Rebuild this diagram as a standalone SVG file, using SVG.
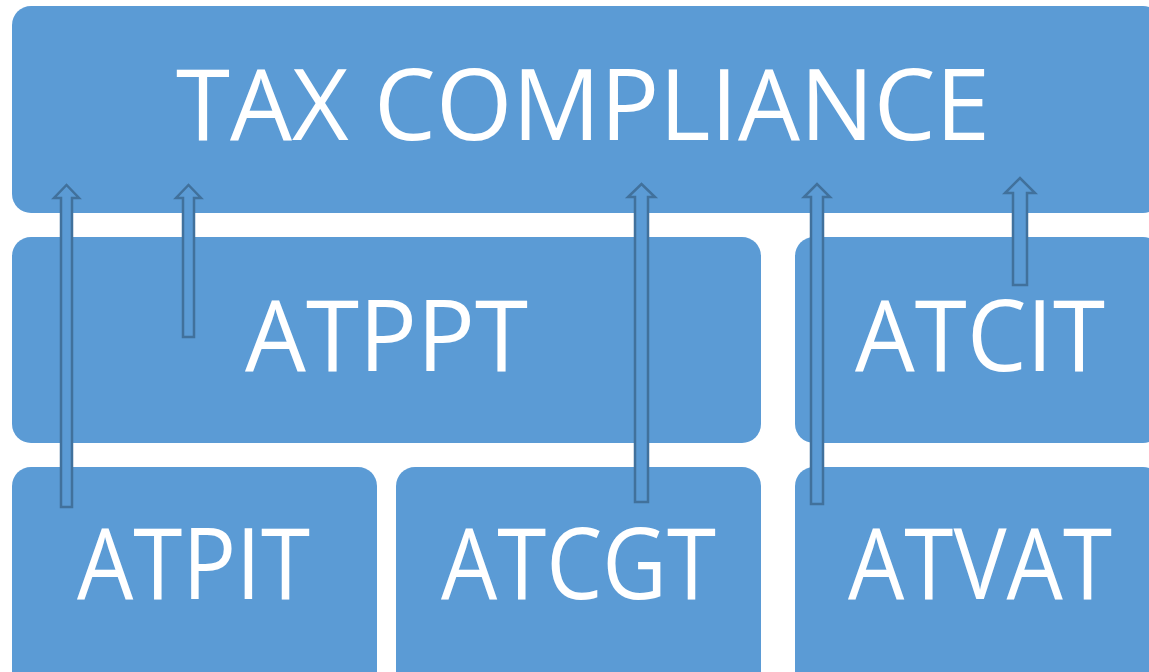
<svg xmlns="http://www.w3.org/2000/svg" width="1149" height="672" viewBox="0 0 1149 672">
<style>
.box{fill:#5B9BD5}
.lbl{font-family:"Open Sans","Liberation Sans",Arial,sans-serif;font-size:98px;fill:#FFFFFF;text-anchor:middle}
.arr{fill:#5B9BD5;stroke:#41719C;stroke-width:2.5;stroke-linejoin:miter}
</style>
<rect width="1149" height="672" fill="#FFFFFF"/>
<g id="tax-compliance"><rect class="box" x="12" y="6" width="1150" height="207" rx="19"/><text class="lbl" x="583" y="140" textLength="814" lengthAdjust="spacingAndGlyphs">TAX COMPLIANCE</text></g>
<g id="atppt"><rect class="box" x="12" y="237" width="749" height="206" rx="19"/><text class="lbl" x="386.5" y="371" textLength="283" lengthAdjust="spacingAndGlyphs">ATPPT</text></g>
<g id="atcit"><rect class="box" x="795" y="237" width="367" height="206" rx="19"/><text class="lbl" x="980" y="371" textLength="250" lengthAdjust="spacingAndGlyphs">ATCIT</text></g>
<g id="atpit"><rect class="box" x="12" y="467" width="365" height="230" rx="19"/><text class="lbl" x="193.5" y="599" textLength="233" lengthAdjust="spacingAndGlyphs">ATPIT</text></g>
<g id="atcgt"><rect class="box" x="396" y="467" width="365" height="230" rx="19"/><text class="lbl" x="578.5" y="599" textLength="275" lengthAdjust="spacingAndGlyphs">ATCGT</text></g>
<g id="atvat"><rect class="box" x="795" y="467" width="367" height="230" rx="19"/><text class="lbl" x="980" y="599" textLength="264" lengthAdjust="spacingAndGlyphs">ATVAT</text></g>
<g id="connectors">
<polygon class="arr" points="61,507 61,198 54,198 66.5,185 79,198 72,198 72,507"/>
<polygon class="arr" points="183,337 183,198 176,198 188.5,185 201,198 194,198 194,337"/>
<polygon class="arr" points="635,502 635,197 628,197 641.5,184 655,197 648,197 648,502"/>
<polygon class="arr" points="811,504 811,197 804,197 817,184 830,197 823,197 823,504"/>
<polygon class="arr" points="1013,285 1013,193 1005,193 1020,178 1035,193 1027,193 1027,285"/>
</g>
</svg>
